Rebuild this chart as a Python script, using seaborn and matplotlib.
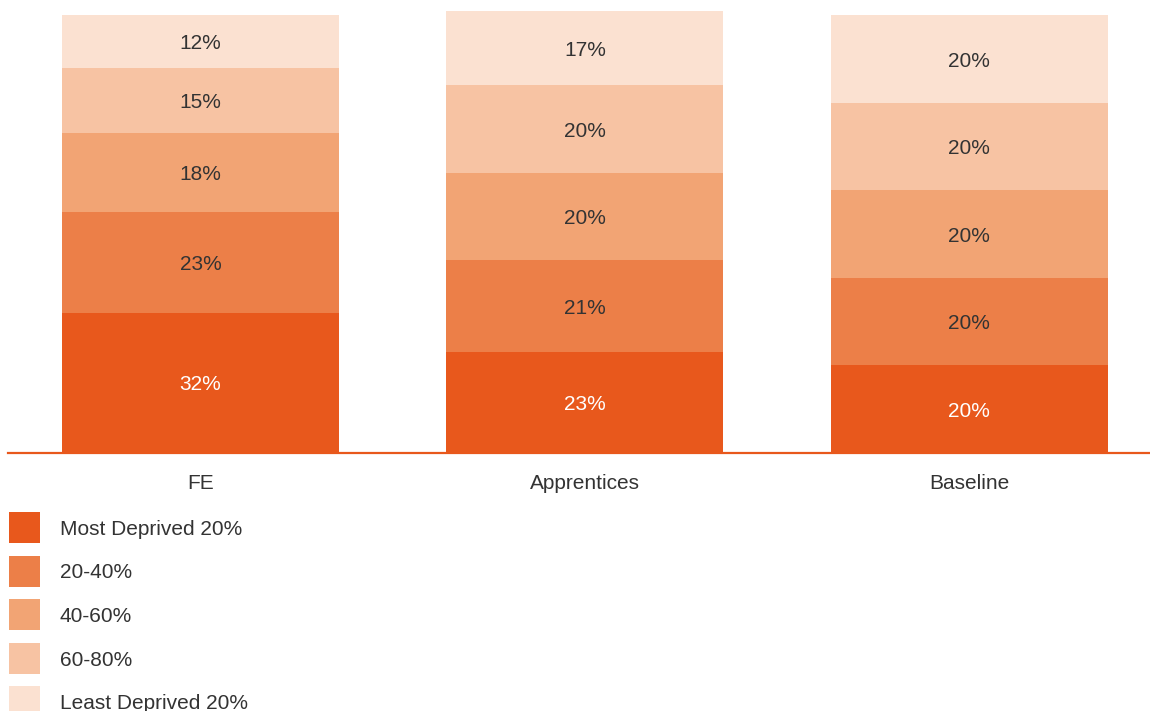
import matplotlib
matplotlib.use("Agg")
import matplotlib.pyplot as plt
import matplotlib.patches as mpatches
import numpy as np
import seaborn as sns

# Share of learners by deprivation quintile
categories = ["FE", "Apprentices", "Baseline"]
quintiles = ["Most Deprived 20%", "20-40%", "40-60%", "60-80%", "Least Deprived 20%"]
most_deprived = [32, 23, 20]
q20_40 = [23, 21, 20]
q40_60 = [18, 20, 20]
q60_80 = [15, 20, 20]
least_deprived = [12, 17, 20]

colors = ["#E8581C", "#EC7F48", "#F2A474", "#F7C3A3", "#FBE1D1"]
label_colors = ["#FFFFFF", "#333333", "#333333", "#333333", "#333333"]
text_color = "#333333"
FS = 15

sns.set_theme(style="white")
plt.rcParams["font.family"] = ["Liberation Sans", "DejaVu Sans"]

series = np.array([most_deprived, q20_40, q40_60, q60_80, least_deprived], dtype=float)
tops = np.cumsum(series, axis=0)
bottoms = tops - series

W, H = 1150, 711
fig = plt.figure(figsize=(W / 100, H / 100), dpi=100)
ax = fig.add_axes([8 / W, 1 - 453 / H, 1142 / W, 453 / H])

# Draw the stack from the tallest cumulative bar down so each layer shows its band
for i in range(len(quintiles) - 1, -1, -1):
    sns.barplot(x=categories, y=tops[i], color=colors[i], saturation=1,
                width=0.72, linewidth=0, ax=ax, order=categories)

for i in range(len(quintiles)):
    for j in range(len(categories)):
        ax.text(j, bottoms[i, j] + series[i, j] / 2, f"{int(series[i, j])}%",
                ha="center", va="center_baseline", fontsize=FS, color=label_colors[i])

ax.set_xlim(-0.5006, 2.47)
ax.set_ylim(0, 103.5)
ax.set_yticks([])
ax.set_xlabel("")
ax.set_ylabel("")
for side in ["top", "left", "right"]:
    ax.spines[side].set_visible(False)
ax.spines["bottom"].set_color("#E8581C")
ax.spines["bottom"].set_linewidth(1.6)
ax.tick_params(axis="x", length=0, pad=15, labelsize=FS, labelcolor=text_color)

# Legend: colour squares with labels, stacked below the axis
sq = 31
row_gap = 43.5
for k, (c, q) in enumerate(zip(colors, quintiles)):
    top_px = 512 + k * row_gap
    fig.add_artist(mpatches.Rectangle((9 / W, 1 - (top_px + sq) / H), sq / W, sq / H,
                                      transform=fig.transFigure, facecolor=c,
                                      edgecolor="none"))
    fig.text(60 / W, 1 - (top_px + sq / 2) / H, q, ha="left", va="center_baseline",
             fontsize=FS, color=text_color)

fig.savefig("out.png", dpi=100)
